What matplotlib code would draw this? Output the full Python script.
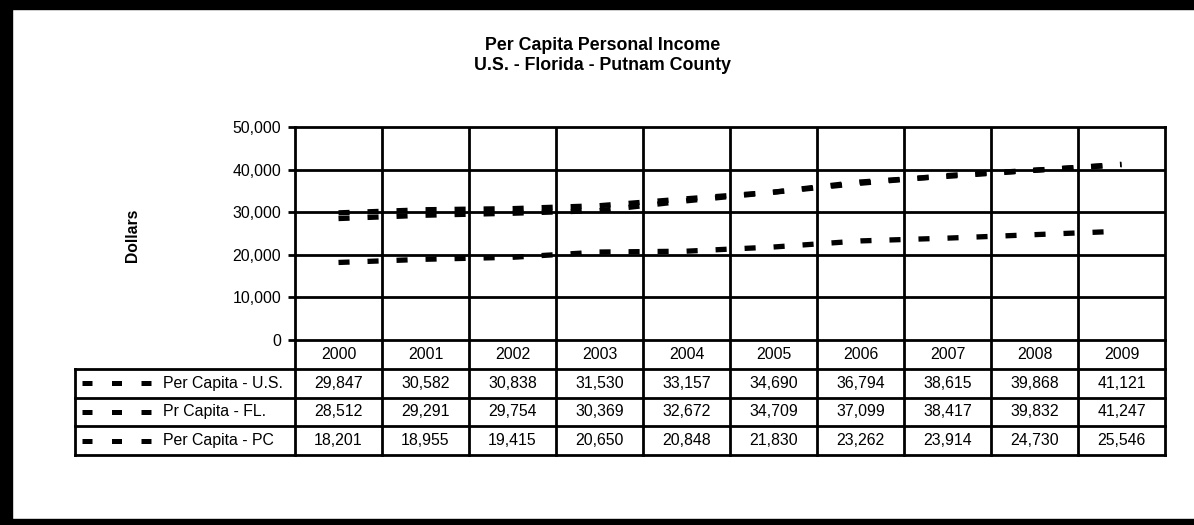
import matplotlib.pyplot as plt
from matplotlib.patches import Rectangle
from matplotlib.ticker import FuncFormatter

plt.rcParams['font.family'] = ['Liberation Sans', 'DejaVu Sans']

years = ['2000', '2001', '2002', '2003', '2004', '2005', '2006', '2007', '2008', '2009']
series_names = ['Per Capita - U.S.', 'Pr Capita - FL.', 'Per Capita - PC']
us = [29847, 30582, 30838, 31530, 33157, 34690, 36794, 38615, 39868, 41121]
fl = [28512, 29291, 29754, 30369, 32672, 34709, 37099, 38417, 39832, 41247]
pc = [18201, 18955, 19415, 20650, 20848, 21830, 23262, 23914, 24730, 25546]
series = [us, fl, pc]

W, H = 1194, 525
fig = plt.figure(figsize=(W / 100, H / 100), dpi=100)

# plot area in pixels
left, right, top, bottom = 295, 1165, 127, 340
ax = fig.add_axes([left / W, (H - bottom) / H, (right - left) / W, (bottom - top) / H])

dash = (0, (2.1, 3.4))
x = list(range(len(years)))
for vals in series:
    ax.plot(x, vals, color='black', lw=3.8, linestyle=dash, dash_capstyle='butt')

ax.set_xlim(-0.5, len(years) - 0.5)
ax.set_ylim(0, 50000)
ax.set_yticks(range(0, 50001, 10000))
ax.yaxis.set_major_formatter(FuncFormatter(lambda v, p: f'{int(v):,}'))
ax.set_xticks([])
ax.tick_params(axis='y', length=5, width=2, labelsize=11.4, pad=5)
for s in ax.spines.values():
    s.set_linewidth(2)
for yv in range(10000, 50000, 10000):
    ax.axhline(yv, color='black', lw=2)
for i in range(1, len(years)):
    ax.axvline(i - 0.5, color='black', lw=2)

ax.set_ylabel('Dollars', fontsize=11.3, fontweight='bold', labelpad=0)
ax.yaxis.set_label_coords(-(left - 140) / (right - left), 0.49)

fig.text(603 / W, 1 - 46 / H, 'Per Capita Personal Income', ha='center', va='center',
         fontsize=12.8, fontweight='bold')
fig.text(603 / W, 1 - 65 / H, 'U.S. - Florida - Putnam County', ha='center', va='center',
         fontsize=12.8, fontweight='bold')

# data table below the plot
pw, ph = right - left, bottom - top
h = 28.75 / ph
lab_left = -(left - 75) / pw
tr = ax.transAxes
nrows = len(series) + 1
for i in range(len(years) + 1):
    ax.plot([i / len(years)] * 2, [0, -nrows * h], color='black', lw=2,
            transform=tr, clip_on=False)
for r in range(1, nrows + 1):
    ax.plot([lab_left, 1], [-r * h, -r * h], color='black', lw=2, transform=tr, clip_on=False)
ax.plot([lab_left, lab_left], [-h, -nrows * h], color='black', lw=2, transform=tr, clip_on=False)

fs = 11.4
for i, yr in enumerate(years):
    ax.text((i + 0.5) / len(years), -0.5 * h, yr, transform=tr, ha='center', va='center', fontsize=fs)
for r, (name, vals) in enumerate(zip(series_names, series)):
    yc = -(r + 1.5) * h
    ax.plot([-(left - 82) / pw, -(left - 153) / pw], [yc, yc], color='black', lw=3.6,
            linestyle=(0, (2.0, 3.9)), dash_capstyle='butt', transform=tr, clip_on=False)
    ax.text(-(left - 163) / pw, yc, name, transform=tr, ha='left', va='center', fontsize=fs)
    for i, v in enumerate(vals):
        ax.text((i + 0.5) / len(years), yc, f'{v:,}', transform=tr, ha='center', va='center',
                fontsize=fs)

# outer frame (top, left, bottom edges)
fig.add_artist(Rectangle((0, 1 - 9 / H), 1, 9 / H, transform=fig.transFigure, color='black'))
fig.add_artist(Rectangle((0, 0), 12 / W, 1, transform=fig.transFigure, color='black'))
fig.add_artist(Rectangle((0, 0), 1, 6 / H, transform=fig.transFigure, color='black'))

fig.savefig('out.png', dpi=100)
